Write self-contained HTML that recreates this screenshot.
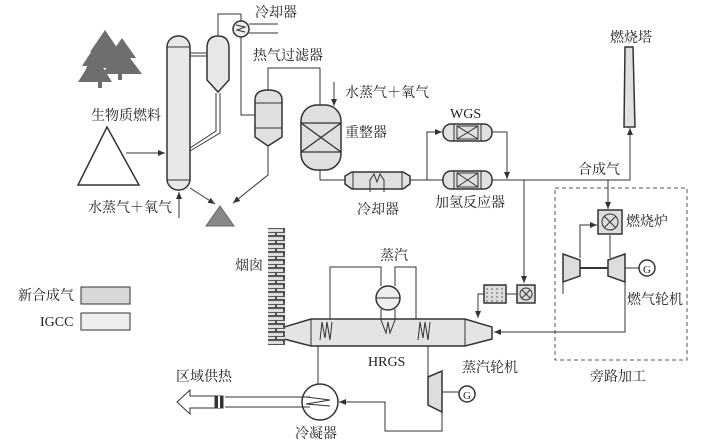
<!DOCTYPE html><html><head><meta charset="utf-8"><style>body{margin:0;background:#fff}svg{display:block}text{font-family:"Liberation Serif","Noto Serif CJK SC","Noto Sans CJK SC",serif;font-size:14px;fill:#222}</style></head><body>
<svg width="713" height="447" viewBox="0 0 713 447" xmlns="http://www.w3.org/2000/svg">
<defs><marker id="a" markerWidth="8" markerHeight="8" refX="7" refY="4" orient="auto" markerUnits="userSpaceOnUse"><path d="M0,1 L7,4 L0,7z" fill="#333"/></marker>
<pattern id="br" width="17" height="8" patternUnits="userSpaceOnUse"><rect width="17" height="8" fill="#ddd"/><path d="M0,0H17M0,4H17M4,0V4M12,4V8" stroke="#444" stroke-width="1.8"/></pattern>
<pattern id="gr" width="5" height="4" patternUnits="userSpaceOnUse"><rect width="5" height="4" fill="#ddd"/><path d="M2,0V2" stroke="#666"/></pattern></defs>
<g stroke="#333" fill="none" stroke-width="1">
<g fill="#555" stroke="none" opacity=".85"><path d="M105,30 L120,52 L113,52 L124,68 L86,68 L97,52 L90,52z"/><path d="M122,38 L136,58 L130,58 L142,74 L102,74 L114,58 L108,58z"/><path d="M95,46 L108,66 L102,66 L112,82 L78,82 L88,66 L82,66z"/><path d="M98,82h4v6h-4z M118,74h4v6h-4z"/></g>
<path d="M107,127 L139,185 L78,185z" fill="#fff" stroke-width="1.5"/>
<path d="M126,153 H165" marker-end="url(#a)"/>
<path d="M179,218 V192" marker-end="url(#a)"/>
<rect x="167" y="36" width="23" height="154" rx="11" fill="#e8e8e8" stroke-width="1.5"/>
<path d="M167,47H190M167,180H190"/>
<path d="M190,53H207M190,56H207"/>
<path d="M207,48 Q207,36 218,36 Q229,36 229,48 V80 L218,92 L207,80z" fill="#e8e8e8" stroke-width="1.5"/>
<path d="M216,93V131L190,148M220,93V133L190,151"/>
<path d="M190,188 L215,204" marker-end="url(#a)"/>
<path d="M268,146 V175 L233,203" marker-end="url(#a)"/>
<path d="M220,206 L234,226 L206,226z" fill="#888" stroke="#666"/>
<path d="M218,36V14H241V21"/>
<circle cx="241" cy="29" r="8" fill="#eee" stroke-width="1.5"/><path d="M236,25 L245,27 L237,30 L245,32"/>
<path d="M249,24H278M249,33H278"/>
<path d="M241,37V115H255"/>
<path d="M255,100 Q255,90 268,90 Q282,90 282,100 V137 L268,146 L255,137z" fill="#e0e0e0" stroke-width="1.5"/>
<path d="M255,103H282M255,128H282"/>
<path d="M268,90V68H320V105"/>
<rect x="301" y="105" width="40" height="65" rx="16" fill="#e0e0e0" stroke-width="1.5"/>
<path d="M301,123H341M301,152H341M301,123L341,152M341,123L301,152" stroke-width="1.3"/>
<path d="M334,82V106" marker-end="url(#a)"/>
<path d="M320,170V180H345"/>
<path d="M352,172H403L410,176V184L403,189H352L345,184V176z" fill="#e0e0e0" stroke-width="1.5"/>
<path d="M353,172V189M402,172V189M370,192V180L374,174L377,182L380,174L384,180V192"/>
<path d="M410,180H443M427,180V132H442" marker-end="url(#a)"/>
<g fill="#e0e0e0" stroke-width="1.5"><rect x="443" y="124" width="49" height="17" rx="8"/><rect x="443" y="171" width="49" height="18" rx="8"/></g>
<path d="M454,124V141M481,124V141M457,126H478V139H457zM457,126L478,139M478,126L457,139"/>
<path d="M454,171V189M481,171V189M457,173H478V187H457zM457,173L478,187M478,173L457,187"/>
<path d="M492,132H507V179" marker-end="url(#a)"/>
<path d="M492,180H630V128" marker-end="url(#a)"/>
<path d="M625,47H633L635,127H624z" fill="#e0e0e0" stroke-width="1.5"/>
<path d="M524,180V283" marker-end="url(#a)"/>
<rect x="517" y="285" width="18" height="18" fill="#ddd" stroke-width="1.5"/><circle cx="526" cy="294" r="6"/><path d="M522,290L530,298M530,290L522,298"/>
<rect x="484" y="285" width="22" height="18" fill="url(#gr)" stroke-width="1.5"/><path d="M506,294H517M484,294H478V318" /><path d="M478,310V318" marker-end="url(#a)"/>
<rect x="555" y="188" width="132" height="172" stroke-dasharray="4,3" stroke="#555"/>
<path d="M608,180V209" marker-end="url(#a)"/>
<rect x="598" y="210" width="24" height="24" fill="#ddd" stroke-width="1.5"/><circle cx="610" cy="222" r="8"/><path d="M604,216L616,228M616,216L604,228"/>
<path d="M580,258V225H597" marker-end="url(#a)"/>
<path d="M610,235V258"/>
<path d="M563,254L580,260V276L563,282z" fill="#ddd" stroke-width="1.5"/>
<path d="M625,254L608,260V276L625,282z" fill="#ddd" stroke-width="1.5"/>
<path d="M580,268H608" stroke-width="2"/><path d="M625,268H639"/><circle cx="647" cy="268" r="8" fill="#fff" stroke-width="1.5"/>
<path d="M563,282V294"/>
<path d="M625,282V332H494" marker-end="url(#a)"/>
<path d="M311,319H465L492,327V339L465,346H311L284,339V327z" fill="#e4e4e4" stroke-width="1.5"/>
<path d="M311,319V346M465,319V346"/>
<path d="M320,340L322,322L325,338L327,322L330,340L332,322M418,340L420,322L423,338L425,322L428,340L430,322"/>
<path d="M330,319V267H381V286M395,286V267H416V319"/>
<circle cx="388" cy="298" r="12" fill="#eee" stroke-width="1.5"/><path d="M376,298H400"/>
<path d="M381,309V320L386,333L388,322L390,333L395,320V309"/>
<rect x="268" y="228" width="17" height="117" fill="url(#br)" stroke="none"/>
<path d="M318,346V384"/>
<circle cx="320" cy="402" r="18" fill="#fff" stroke-width="1.5"/><path d="M306,397L330,400L306,404L330,406"/>
<path d="M428,377L442,371V412L428,405z" fill="#ddd" stroke-width="1.5"/><path d="M442,392H459"/><circle cx="467" cy="394" r="8" fill="#fff" stroke-width="1.5"/>
<path d="M428,346V377"/>
<path d="M442,410V431H385V402H339" marker-end="url(#a)"/>
<path d="M225,397H310M225,407H310"/>
<path d="M177,402L190,390V396H218V408H190V414z" fill="#fff"/><rect x="215" y="396" width="8" height="12" fill="#333"/><path d="M219,396V408" stroke="#fff" stroke-width="2"/>
<rect x="81" y="287" width="49" height="17" fill="#d8d8d8"/><rect x="81" y="313" width="49" height="17" fill="#eee"/>
</g>
<text x="255" y="17">冷却器</text><text x="253" y="60">热气过滤器</text><text x="91" y="120">生物质燃料</text>
<text x="88" y="212">水蒸气＋氧气</text><text x="345" y="97">水蒸气＋氧气</text><text x="345" y="137">重整器</text>
<text x="357" y="214">冷却器</text><text x="450" y="118">WGS</text><text x="435" y="207">加氢反应器</text>
<text x="610" y="42">燃烧塔</text><text x="578" y="174">合成气</text><text x="626" y="226">燃烧炉</text>
<text x="627" y="304">燃气轮机</text><text x="590" y="381">旁路加工</text><text x="380" y="260">蒸汽</text>
<text x="235" y="270">烟囱</text><text x="368" y="366">HRGS</text><text x="462" y="372">蒸汽轮机</text>
<text x="176" y="381">区域供热</text><text x="295" y="438">冷凝器</text><text x="18" y="300">新合成气</text><text x="40" y="326">IGCC</text>
<text x="643" y="273" style="font-size:11px">G</text><text x="463" y="399" style="font-size:11px">G</text>
</svg></body></html>
